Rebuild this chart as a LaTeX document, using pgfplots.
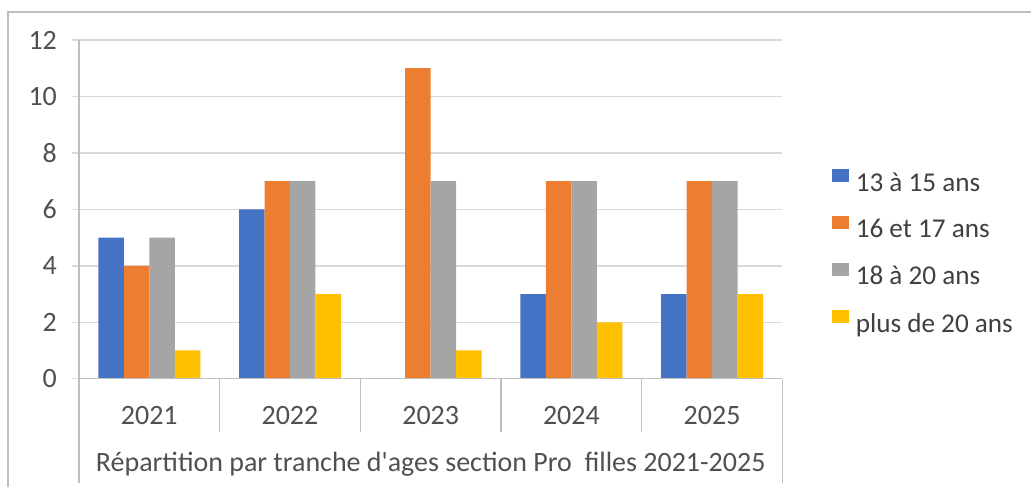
\documentclass[border=0pt]{standalone}
\usepackage{fontspec}
\setmainfont{Carlito}
\usepackage{pgfplots}
\pgfplotsset{compat=1.18}
\definecolor{cA}{HTML}{4472C4}
\definecolor{cB}{HTML}{ED7D31}
\definecolor{cC}{HTML}{A5A5A5}
\definecolor{cD}{HTML}{FFC000}
\definecolor{gridc}{HTML}{D9D9D9}
\definecolor{sepc}{HTML}{BFBFBF}
\definecolor{txt}{HTML}{505050}

\begin{document}
\begin{tikzpicture}[x=1pt,y=1pt]
% page frame: 1 px of the reference = 0.5pt
\path (-39.5,-54) rectangle (476.5,189.5);
\draw[sepc, line width=0.75pt] (-35.5,-54) -- (-35.5,183.5) -- (476.5,183.5);
\begin{axis}[
    at={(0,0)}, anchor=south west,
    scale only axis,
    width=352pt, height=169.5pt,
    xmin=-0.5, xmax=4.5,
    ymin=0, ymax=12,
    clip=false,
    ybar=0pt, bar width=12.75pt,
    axis line style={draw=none},
    ymajorgrids,
    grid style={gridc, line width=0.75pt},
    ytick={0,2,...,12},
    ytick pos=left,
    tick align=outside,
    major tick length=3.5pt,
    ytick style={gridc, line width=0.75pt},
    /pgf/number format/assume math mode=true,
    yticklabel style={text=txt, font=\fontsize{14}{16}\selectfont, xshift=-4pt},
    xtick={0,1,2,3,4},
    xticklabels={2021,2022,2023,2024,2025},
    xtick style={draw=none},
    xticklabel style={text=txt, font=\fontsize{14}{16}\selectfont, anchor=center, yshift=-15pt},
    xlabel={Répartition par tranche d\textquotesingle ages section Pro\ \ filles 2021-2025},
    xlabel style={text=txt, font=\fontsize{14}{16}\selectfont,
        at={(axis description cs:0.5,0)}, anchor=center, yshift=-43pt},
    legend style={draw=none, fill=none, inner sep=0pt, row sep=0pt,
        at={(axis description cs:1.0696,0.6475)}, anchor=north west,
        font=\fontsize{13.6}{15}\selectfont, text=black!75,
        nodes={inner sep=0pt, minimum height=23.5pt},
        /tikz/every odd column/.append style={column sep=3.5pt}},
    legend cell align=left,
    legend image code/.code={\fill[#1] (0pt,0.5pt) rectangle (8.5pt,7pt);},
]
\addplot[fill=cA, draw=none] coordinates {(0,5) (1,6) (2,0) (3,3) (4,3)};
\addplot[fill=cB, draw=none] coordinates {(0,4) (1,7) (2,11) (3,7) (4,7)};
\addplot[fill=cC, draw=none] coordinates {(0,5) (1,7) (2,7) (3,7) (4,7)};
\addplot[fill=cD, draw=none] coordinates {(0,1) (1,3) (2,1) (3,2) (4,3)};
\legend{13 à 15 ans, 16 et 17 ans, 18 à 20 ans, plus de 20 ans}

% axis lines and category boxes
\draw[sepc, line width=0.75pt] (axis cs:-0.5,0) -- (axis cs:4.5,0);
\draw[sepc, line width=0.75pt] (axis cs:-0.5,12) -- ([yshift=-52pt]axis cs:-0.5,0);
\draw[sepc, line width=0.75pt] (axis cs:4.5,0) -- ([yshift=-52pt]axis cs:4.5,0);
\pgfplotsinvokeforeach{0.5,1.5,2.5,3.5}{
    \draw[sepc, line width=0.75pt] (axis cs:#1,0) -- ([yshift=-26.5pt]axis cs:#1,0);
}
\end{axis}
\end{tikzpicture}
\end{document}
